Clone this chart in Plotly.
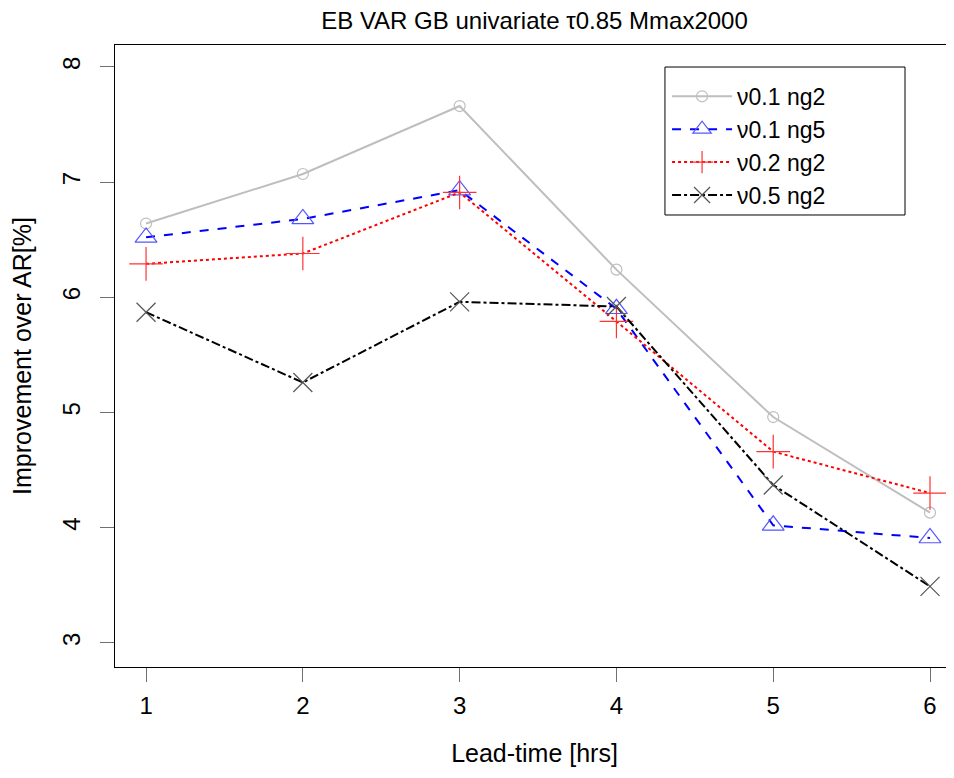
import plotly.graph_objects as go

# lead times (hrs)
lead_time = [1, 2, 3, 4, 5, 6]

# improvement over AR [%] per setting
nu01_ng2 = [6.64, 7.07, 7.66, 6.24, 4.96, 4.13]
nu01_ng5 = [6.52, 6.68, 6.93, 5.90, 4.02, 3.91]
nu02_ng2 = [6.29, 6.38, 6.91, 5.79, 4.66, 4.30]
nu05_ng2 = [5.87, 5.26, 5.96, 5.92, 4.37, 3.49]

y_ticks = [3, 4, 5, 6, 7, 8]

FONT = "Liberation Sans, Arial, sans-serif"


def f(size):
    return dict(family=FONT, size=size, color="black")


fig = go.Figure()

# series styles (R-like base graphics look)
series = [
    ("ν0.1 ng2", nu01_ng2, "#BEBEBE", "solid", "circle-open", 11, "#BEBEBE"),
    ("ν0.1 ng5", nu01_ng5, "#0000FF", "dash", "triangle-up-open", 19, "#5555FF"),
    ("ν0.2 ng2", nu02_ng2, "#FF0000", "dot", "cross-thin-open", 24, "#FF3333"),
    ("ν0.5 ng2", nu05_ng2, "#000000", "dashdot", "x-thin-open", 19, "#555555"),
]

for name, vals, col, dash, sym, size, mcol in series:
    fig.add_trace(go.Scatter(
        x=lead_time, y=vals, name=name, mode="lines+markers",
        line=dict(color=col, width=2, dash=dash),
        marker=dict(symbol=sym, size=size, color=mcol,
                    line=dict(color=mcol, width=1.2)),
    ))

# page body adds an 8px offset, so the figure is a bit smaller than the window
fig.update_layout(
    width=946, height=770,
    margin=dict(l=107, r=0, t=37, b=111),
    paper_bgcolor="white", plot_bgcolor="white",
    font=f(22),
    title=dict(text="EB VAR GB univariate τ0.85 Mmax2000",
               x=0.5, xref="paper", xanchor="center",
               y=1 - 4 / 770, yref="container", yanchor="top",
               pad=dict(t=0, b=0), font=f(24)),
    showlegend=True,
    legend=dict(x=0.658, y=0.952, xanchor="left", yanchor="top",
                borderwidth=0, bgcolor="rgba(0,0,0,0)",
                font=f(23), itemwidth=60, tracegroupgap=0),
)

# legend frame
fig.add_shape(type="rect", xref="paper", yref="paper",
              x0=0.6555, x1=0.9416, y0=0.7267, y1=0.9646,
              line=dict(color="black", width=1), fillcolor="white", layer="below")

fig.update_xaxes(
    range=[0.802, 6.153], tickvals=lead_time, automargin=False,
    showgrid=False, zeroline=False,
    showline=True, linecolor="black", linewidth=1, mirror=True,
    ticks="outside", ticklen=14, tickcolor="#707070", tickwidth=1,
    tickfont=f(24), ticklabelstandoff=3,
    title=dict(text="Lead-time [hrs]", standoff=26, font=f(25)),
)

fig.update_yaxes(
    range=[2.79, 8.19], tickvals=y_ticks, tickangle=-90, automargin=False,
    showgrid=False, zeroline=False,
    showline=True, linecolor="black", linewidth=1, mirror=False,
    ticks="outside", ticklen=14, tickcolor="#707070", tickwidth=1,
    tickfont=f(24), ticklabelstandoff=10,
    title=dict(text="Improvement over AR[%]", standoff=24, font=f(25)),
)

fig.write_html("out.html")
